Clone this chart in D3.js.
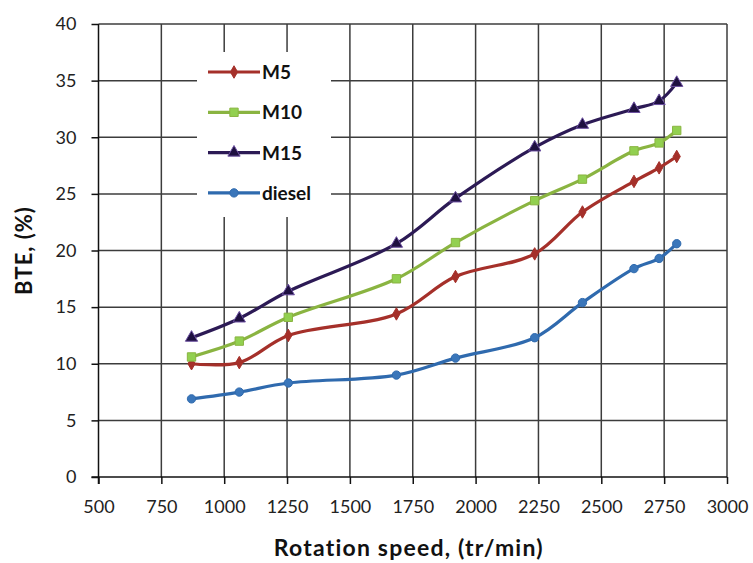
<!DOCTYPE html>
<html>
<head>
<meta charset="utf-8">
<script src="https://cdn.jsdelivr.net/npm/d3@7"></script>
<style>
  body { margin: 0; background: #fff; }
  text { font-family: Lato, "Open Sans", sans-serif; }
</style>
</head>
<body>
<div id="chart"></div>
<script>
// rotation speed (tr/min)
const speeds = [870, 1060, 1255, 1685, 1920, 2235, 2425, 2630, 2730, 2800];
const m5 = [10.0, 10.1, 12.5, 14.4, 17.7, 19.7, 23.4, 26.1, 27.3, 28.3];
const m10 = [10.6, 12.0, 14.1, 17.5, 20.7, 24.4, 26.3, 28.8, 29.5, 30.6];
const m15 = [12.3, 14.0, 16.4, 20.6, 24.6, 29.1, 31.1, 32.5, 33.2, 34.8];
const diesel = [6.9, 7.5, 8.3, 9.0, 10.5, 12.3, 15.4, 18.4, 19.3, 20.6];
const xTicks = [500, 750, 1000, 1250, 1500, 1750, 2000, 2250, 2500, 2750, 3000];
const yTicks = [0, 5, 10, 15, 20, 25, 30, 35, 40];

const series = [
    { name: "M5", values: m5, color: "#A5302A", marker: "diamond", fill: "#A5302A" },
    { name: "M10", values: m10, color: "#8AB441", marker: "square", fill: "#92D050" },
    { name: "M15", values: m15, color: "#2C1A55", marker: "triangle", fill: "#1E1040" },
    { name: "diesel", values: diesel, color: "#2F6AAE", marker: "circle", fill: "#3A76BA" }
];

const width = 753, height = 563;
const margin = { left: 98.5, right: 26, top: 24, bottom: 86 };

const svg = d3.select("#chart").append("svg")
    .attr("width", width)
    .attr("height", height);

const x = d3.scaleLinear().domain([500, 3000]).range([margin.left, width - margin.right]);
const y = d3.scaleLinear().domain([0, 40]).range([height - margin.bottom, margin.top]);

// grid
const grid = svg.append("g").attr("stroke", "#3c3c3c").attr("stroke-width", 1.5);
grid.selectAll(".gx").data(xTicks.slice(1)).enter().append("line")
    .attr("x1", d => x(d)).attr("x2", d => x(d))
    .attr("y1", y(0)).attr("y2", y(40));
grid.selectAll(".gy").data(yTicks.slice(1)).enter().append("line")
    .attr("x1", x(500)).attr("x2", x(3000))
    .attr("y1", d => y(d)).attr("y2", d => y(d));

// axes
const xAxis = svg.append("g")
    .attr("transform", `translate(0,${y(0)})`)
    .call(d3.axisBottom(x).tickValues(xTicks).tickSize(7).tickPadding(16).tickFormat(d3.format("d")));
const yAxis = svg.append("g")
    .attr("transform", `translate(${x(500)},0)`)
    .call(d3.axisLeft(y).tickValues(yTicks).tickSize(7).tickPadding(15));
[xAxis, yAxis].forEach(a => {
    a.selectAll("path, line").attr("stroke", "#111").attr("stroke-width", 1.5);
    a.selectAll("text").attr("font-size", 18).attr("fill", "#222");
});
xAxis.select(".domain").attr("d", `M${x(500) - 7},0H${x(3000)}`);
yAxis.select(".domain").attr("d", `M0,${y(0) + 7}V${y(40)}`);

// axis titles
svg.append("text")
    .attr("x", (x(500) + x(3000)) / 2 - 4).attr("y", 556)
    .attr("text-anchor", "middle").attr("font-size", 23).attr("font-weight", "bold")
    .attr("letter-spacing", 1.2)
    .attr("fill", "#111")
    .text("Rotation speed, (tr/min)");
svg.append("text")
    .attr("transform", `translate(32,${(y(0) + y(40)) / 2}) rotate(-90)`)
    .attr("text-anchor", "middle").attr("font-size", 22).attr("font-weight", "bold")
    .attr("letter-spacing", 1)
    .attr("fill", "#111")
    .text("BTE, (%)");

const symbols = {
    diamond: d3.symbol().type(d3.symbolDiamond).size(45),
    square: d3.symbol().type(d3.symbolSquare).size(70),
    triangle: d3.symbol().type(d3.symbolTriangle).size(65),
    circle: d3.symbol().type(d3.symbolCircle).size(55)
};

const line = d3.line()
    .x((d, i) => x(speeds[i]))
    .y(d => y(d))
    .curve(d3.curveCatmullRom.alpha(0.5));

series.forEach(s => {
    const g = svg.append("g");
    g.append("path")
        .attr("d", line(s.values))
        .attr("fill", "none")
        .attr("stroke", s.color)
        .attr("stroke-width", 3.2);
    g.selectAll("path.m").data(s.values).enter().append("path")
        .attr("class", "m")
        .attr("transform", (d, i) => `translate(${x(speeds[i])},${y(d)})`)
        .attr("d", symbols[s.marker])
        .attr("fill", s.fill)
        .attr("stroke", s.marker === "triangle" ? "#6B4FA0" : s.color)
        .attr("stroke-width", 1);
});

// legend
const legend = svg.append("g");
legend.append("rect")
    .attr("x", 197).attr("y", 52).attr("width", 134).attr("height", 165)
    .attr("fill", "#fff");
series.forEach((s, i) => {
    const ly = 72 + i * 40.3;
    legend.append("line")
        .attr("x1", 208).attr("x2", 260).attr("y1", ly).attr("y2", ly)
        .attr("stroke", s.color).attr("stroke-width", 3.2);
    legend.append("path")
        .attr("transform", `translate(234,${ly})`)
        .attr("d", symbols[s.marker])
        .attr("fill", s.fill)
        .attr("stroke", s.marker === "triangle" ? "#6B4FA0" : s.color)
        .attr("stroke-width", 1);
    legend.append("text")
        .attr("x", 262).attr("y", ly + 7)
        .attr("font-size", 19).attr("font-weight", "bold").attr("fill", "#111")
        .text(s.name);
});
</script>
</body>
</html>
